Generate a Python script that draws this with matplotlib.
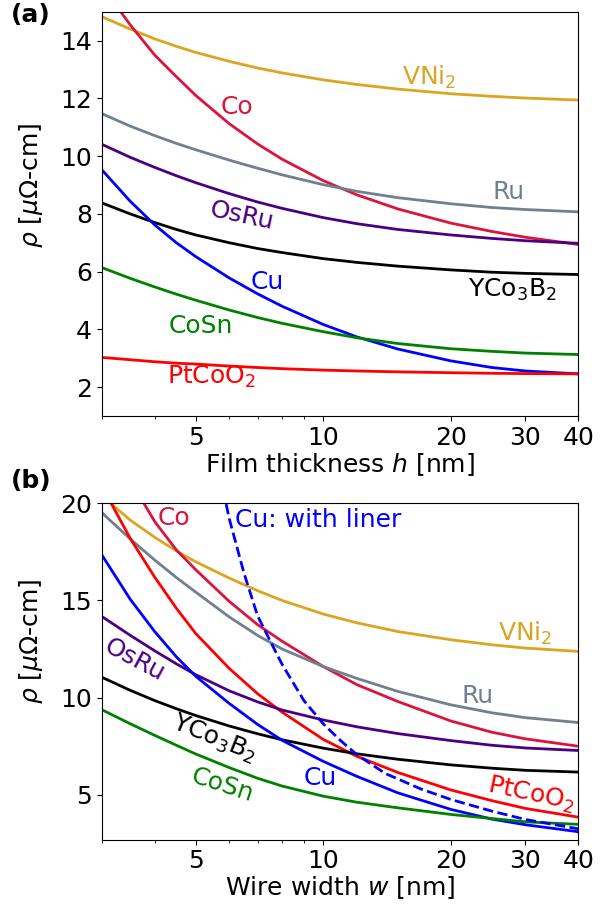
import numpy as np
import matplotlib
matplotlib.use("Agg")
import matplotlib.pyplot as plt
from matplotlib.ticker import FixedLocator, NullFormatter, FixedFormatter

# Values (resistivity in uOhm-cm)
h = [3, 3.5, 4, 4.5, 5, 6, 7, 8, 10, 12, 15, 20, 25, 30, 40]

# (a) films vs thickness h
film_VNi2 = [14.83, 14.40, 14.06, 13.80, 13.59, 13.28, 13.05, 12.88, 12.64, 12.48, 12.32, 12.16, 12.07, 12.01, 11.94]
film_Co = [15.9, 14.55, 13.5, 12.75, 12.1, 11.12, 10.42, 9.89, 9.15, 8.66, 8.17, 7.68, 7.39, 7.19, 6.94]
film_Ru = [11.47, 11.04, 10.71, 10.44, 10.22, 9.86, 9.58, 9.35, 9.01, 8.78, 8.56, 8.35, 8.22, 8.15, 8.07]
film_OsRu = [10.41, 9.96, 9.61, 9.32, 9.08, 8.70, 8.41, 8.19, 7.87, 7.66, 7.46, 7.27, 7.15, 7.07, 6.98]
film_YCo3B2 = [8.38, 8.0, 7.70, 7.46, 7.27, 7.0, 6.80, 6.66, 6.45, 6.32, 6.19, 6.06, 5.98, 5.94, 5.90]
film_Cu = [9.53, 8.44, 7.62, 7.0, 6.52, 5.78, 5.23, 4.80, 4.17, 3.74, 3.32, 2.91, 2.68, 2.56, 2.46]
film_CoSn = [6.14, 5.77, 5.47, 5.22, 5.01, 4.67, 4.41, 4.21, 3.92, 3.71, 3.51, 3.33, 3.24, 3.18, 3.13]
film_PtCoO2 = [3.03, 2.95, 2.88, 2.83, 2.80, 2.73, 2.68, 2.64, 2.59, 2.56, 2.53, 2.50, 2.48, 2.47, 2.46]

# (b) wires vs width w
w = h
wire_VNi2 = [20.4, 19.14, 18.25, 17.55, 16.99, 16.15, 15.5, 15.0, 14.3, 13.85, 13.4, 12.98, 12.72, 12.55, 12.38]
w_Co = [3.5, 4, 4.5, 5, 6, 7, 8, 10, 12, 15, 20, 25, 30, 40]
wire_Co = [21.2, 19.06, 17.6, 16.58, 14.95, 13.75, 12.9, 11.6, 10.67, 9.8, 8.8, 8.22, 7.88, 7.5]
wire_Ru = [19.52, 18.17, 17.08, 16.18, 15.43, 14.15, 13.2, 12.5, 11.6, 10.99, 10.32, 9.63, 9.22, 8.97, 8.72]
wire_PtCoO2 = [20.9, 18.2, 16.2, 14.6, 13.3, 11.5, 10.2, 9.25, 7.85, 6.98, 6.15, 5.25, 4.7, 4.3, 3.85]
wire_OsRu = [14.18, 13.21, 12.41, 11.74, 11.18, 10.35, 9.78, 9.36, 8.85, 8.5, 8.15, 7.79, 7.55, 7.41, 7.28]
wire_YCo3B2 = [11.05, 10.38, 9.85, 9.43, 9.08, 8.54, 8.14, 7.83, 7.40, 7.11, 6.83, 6.54, 6.37, 6.26, 6.17]
wire_Cu = [17.35, 15.07, 13.4, 12.1, 11.1, 9.7, 8.62, 7.8, 6.72, 5.95, 5.1, 4.25, 3.75, 3.46, 3.10]
wire_CoSn = [9.38, 8.66, 8.06, 7.55, 7.1, 6.4, 5.85, 5.45, 4.93, 4.62, 4.33, 3.99, 3.78, 3.61, 3.48]
w_liner = [5.8, 6.0, 6.5, 7.0, 7.5, 8.0, 9.0, 10.0, 11.0, 12.0, 14.0, 17.0, 20, 25, 30, 40]
wire_Cu_liner = [20.7, 19.2, 16.4, 14.2, 12.9, 11.7, 9.85, 8.65, 7.78, 7.07, 6.1, 5.3, 4.76, 4.16, 3.73, 3.25]

cols = {"VNi2": "goldenrod", "Co": "crimson", "Ru": "slategray", "OsRu": "indigo",
        "YCo3B2": "black", "Cu": "blue", "CoSn": "green", "PtCoO2": "red"}

plt.rcParams["font.size"] = 18
lw = 2.0

fig = plt.figure(figsize=(6.13, 9.07), dpi=100)
ax1 = fig.add_axes([0.166, 0.5413, 0.7775, 0.4458])
ax2 = fig.add_axes([0.166, 0.0744, 0.7775, 0.3707])

# --- (a) film thickness ---
ax1.plot(h, film_VNi2, color=cols["VNi2"], lw=lw)
ax1.plot(h, film_Co, color=cols["Co"], lw=lw)
ax1.plot(h, film_Ru, color=cols["Ru"], lw=lw)
ax1.plot(h, film_OsRu, color=cols["OsRu"], lw=lw)
ax1.plot(h, film_YCo3B2, color=cols["YCo3B2"], lw=lw)
ax1.plot(h, film_Cu, color=cols["Cu"], lw=lw)
ax1.plot(h, film_CoSn, color=cols["CoSn"], lw=lw)
ax1.plot(h, film_PtCoO2, color=cols["PtCoO2"], lw=lw)

ax1.text(17.8, 12.72, "VNi$_2$", color=cols["VNi2"], ha="center", va="center")
ax1.text(6.25, 11.69, "Co", color=cols["Co"], ha="center", va="center")
ax1.text(27.4, 8.75, "Ru", color=cols["Ru"], ha="center", va="center")
ax1.text(6.43, 7.93, "OsRu", color=cols["OsRu"], ha="center", va="center", rotation=-12)
ax1.text(7.36, 5.65, "Cu", color=cols["Cu"], ha="center", va="center")
ax1.text(27.9, 5.37, "YCo$_3$B$_2$", color=cols["YCo3B2"], ha="center", va="center")
ax1.text(5.14, 4.13, "CoSn", color=cols["CoSn"], ha="center", va="center")
ax1.text(5.46, 2.37, "PtCoO$_2$", color=cols["PtCoO2"], ha="center", va="center")

ax1.set_ylim(1, 15)
ax1.set_yticks([2, 4, 6, 8, 10, 12, 14])
ax1.set_xlabel("Film thickness $h$ [nm]", labelpad=1)

# --- (b) wire width ---
ax2.plot(w, wire_VNi2, color=cols["VNi2"], lw=lw)
ax2.plot(w_Co, wire_Co, color=cols["Co"], lw=lw)
ax2.plot(w, wire_Ru, color=cols["Ru"], lw=lw)
ax2.plot(w, wire_PtCoO2, color=cols["PtCoO2"], lw=lw)
ax2.plot(w, wire_OsRu, color=cols["OsRu"], lw=lw)
ax2.plot(w, wire_YCo3B2, color=cols["YCo3B2"], lw=lw)
ax2.plot(w, wire_Cu, color=cols["Cu"], lw=lw)
ax2.plot(w, wire_CoSn, color=cols["CoSn"], lw=lw)
ax2.plot(w_liner, wire_Cu_liner, color=cols["Cu"], lw=lw, ls="--")

ax2.text(4.44, 19.24, "Co", color=cols["Co"], ha="center", va="center")
ax2.text(6.2, 19.14, "Cu: with liner", color=cols["Cu"], ha="left", va="center")
ax2.text(29.9, 13.31, "VNi$_2$", color=cols["VNi2"], ha="center", va="center")
ax2.text(23.1, 10.07, "Ru", color=cols["Ru"], ha="center", va="center")
ax2.text(3.58, 11.92, "OsRu", color=cols["OsRu"], ha="center", va="center", rotation=-28)
ax2.text(5.52, 7.9, "YCo$_3$B$_2$", color=cols["YCo3B2"], ha="center", va="center", rotation=-22)
ax2.text(5.77, 5.48, "CoSn", color=cols["CoSn"], ha="center", va="center", rotation=-18)
ax2.text(9.82, 5.84, "Cu", color=cols["Cu"], ha="center", va="center")
ax2.text(30.9, 5.02, "PtCoO$_2$", color=cols["PtCoO2"], ha="center", va="center", rotation=-12)

ax2.set_ylim(2.7, 20)
ax2.set_yticks([5, 10, 15, 20])
ax2.set_xlabel("Wire width $w$ [nm]", labelpad=1)

for ax in (ax1, ax2):
    ax.set_xscale("log")
    ax.set_xlim(3, 40)
    ax.xaxis.set_major_locator(FixedLocator([5, 10, 20, 30, 40]))
    ax.xaxis.set_major_formatter(FixedFormatter(["5", "10", "20", "30", "40"]))
    ax.xaxis.set_minor_locator(FixedLocator([3, 4, 6, 7, 8, 9]))
    ax.xaxis.set_minor_formatter(NullFormatter())
    ax.set_ylabel(r"$\rho$ [$\mu\Omega$-cm]")

ax1.yaxis.set_label_coords(-0.12, 0.57)
ax2.yaxis.set_label_coords(-0.12, 0.59)

fig.text(0.018, 0.997, "(a)", weight="bold", va="top", ha="left")
fig.text(0.018, 0.483, "(b)", weight="bold", va="top", ha="left")

fig.savefig("out.png", dpi=100)
